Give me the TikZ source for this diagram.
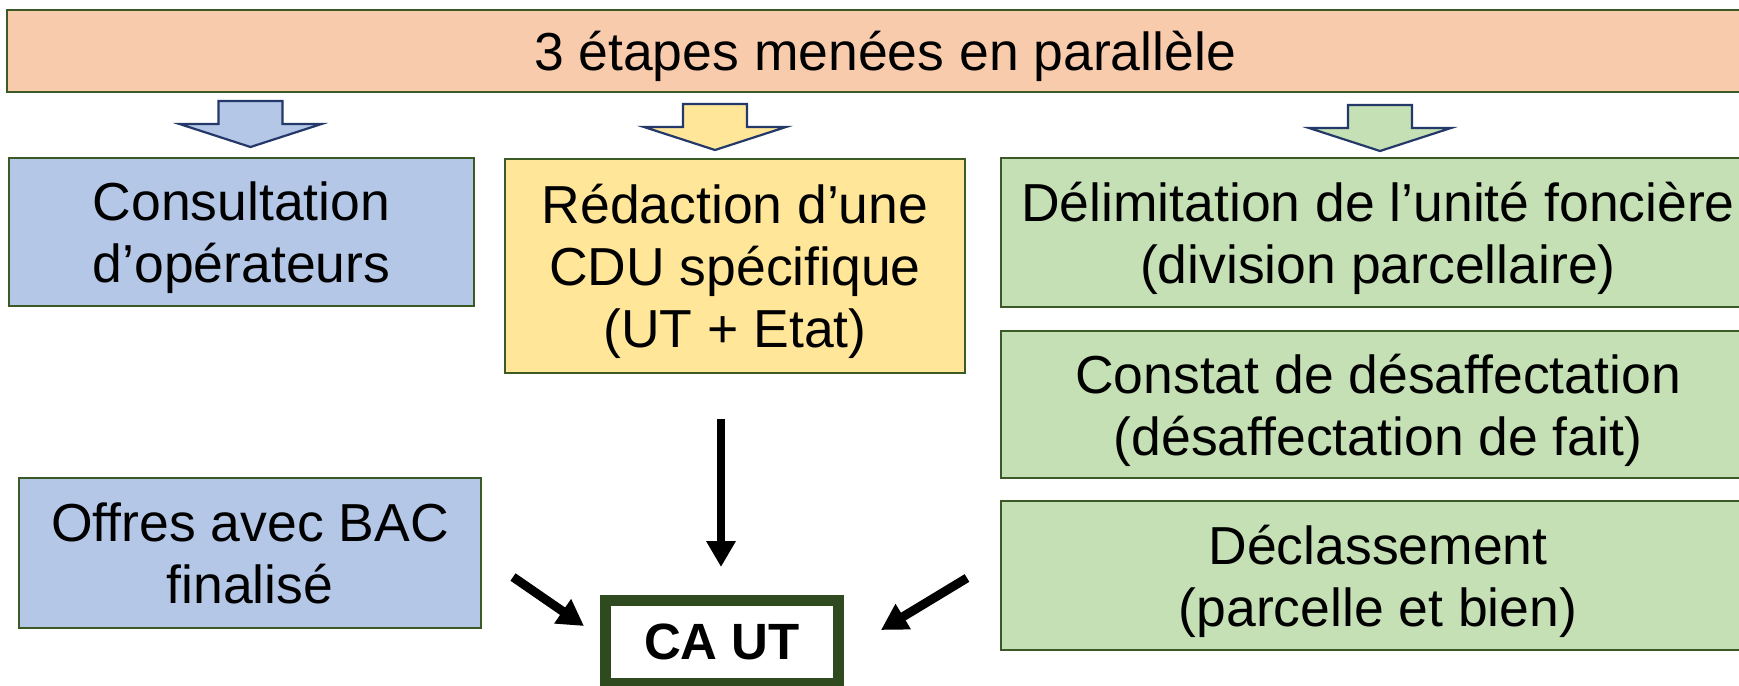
\documentclass[tikz,border=0pt]{standalone}
\usepackage{fontspec}
\setmainfont{Liberation Sans}
\usetikzlibrary{arrows.meta}
\definecolor{peach}{HTML}{F8CBAD}
\definecolor{bluefill}{HTML}{B4C7E7}
\definecolor{yellowfill}{HTML}{FFE699}
\definecolor{greenfill}{HTML}{C5E0B4}
\definecolor{boxline}{HTML}{3B5A26}
\definecolor{arrowline}{HTML}{24396A}
\definecolor{cagreen}{HTML}{2E4A1E}
\begin{document}
\begin{tikzpicture}[x=1pt,y=-1pt,
  box/.style={draw=boxline, line width=2.5pt, inner sep=0pt, align=center,
    text depth=0pt, font=\fontsize{53.5}{62}\selectfont},
  cabox/.style={draw=cagreen, line width=11pt, fill=white, inner sep=0pt,
    text depth=0pt, font=\fontsize{51}{60}\selectfont\bfseries},
  conn/.style={line width=8pt, -{Triangle[width=28pt,length=26pt]}},
  barrow/.style={draw=arrowline, line width=2.2pt, line join=miter},
  pics/blockarrow/.style={code={
    \draw[barrow, fill=#1] (-32,0) -- (32,0) -- (32,23) -- (71,23) -- (0,46)
      -- (-71,23) -- (-32,23) -- cycle;}}
]
\useasboundingbox (0,0) rectangle (1739,685);
\clip (0,0) rectangle (1739,685);
\fill[white] (0,0) rectangle (1739,685);

\node[box, fill=peach, minimum width=1756pt, minimum height=82pt] (banner) at (885,51)
  {3 étapes menées en parallèle};

\pic at (250.5,101) {blockarrow=bluefill};
\pic at (715,104) {blockarrow=yellowfill};
\pic at (1380,105) {blockarrow=greenfill};

\node[box, fill=bluefill, minimum width=465pt, minimum height=148pt] (consult) at (241.5,232)
  {Consultation\\d’opérateurs};
\node[box, fill=yellowfill, minimum width=460pt, minimum height=214pt] (redac) at (735,266)
  {Rédaction d’une\\CDU spécifique\\(UT + Etat)};
\node[box, fill=greenfill, minimum width=754pt, minimum height=149pt] (delim) at (1378,232.5)
  {Délimitation de l’unité foncière\\(division parcellaire)};
\node[box, fill=greenfill, minimum width=754pt, minimum height=147pt] (constat) at (1378,404.5)
  {Constat de désaffectation\\(désaffectation de fait)};
\node[box, fill=greenfill, minimum width=754pt, minimum height=149pt] (declass) at (1378,575.5)
  {Déclassement\\(parcelle et bien)};
\node[box, fill=bluefill, minimum width=462pt, minimum height=150pt] (offres) at (250,553)
  {Offres avec BAC\\finalisé};
\node[cabox, minimum width=233pt, minimum height=83pt] (ca) at (722,642) {CA UT};

\coordinate (d1) at (721,419);
\coordinate (d2) at (721,567);
\coordinate (l1) at (513,577);
\coordinate (l2) at (584,626);
\coordinate (r1) at (967,578);
\coordinate (r2) at (881,630);
\draw[conn] (d1) -- (d2);
\draw[conn, line width=9pt] (l1) -- (l2);
\draw[conn, line width=9pt] (r1) -- (r2);
\end{tikzpicture}
\end{document}
